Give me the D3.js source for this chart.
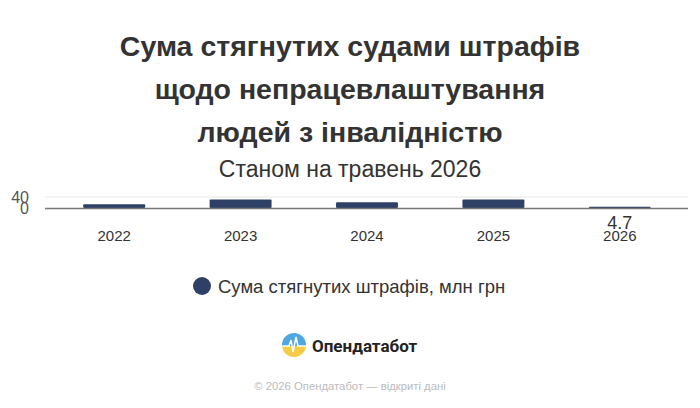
<!DOCTYPE html>
<html><head><meta charset="utf-8">
<script src="https://cdn.jsdelivr.net/npm/d3@7"></script>
<style>body{margin:0;background:#fff;font-family:"Liberation Sans",Arial,sans-serif;}</style>
</head><body><svg id="c" width="700" height="408"></svg>
<script>
const titleLines = ["Сума стягнутих судами штрафів", "щодо непрацевлаштування", "людей з інвалідністю"];
const subtitle = "Станом на травень 2026";
const years = ["2022", "2023", "2024", "2025", "2026"];
const fines = [13.5, 31, 20.5, 31, 4.7];
const yTicks = [0, 40];
const seriesName = "Сума стягнутих штрафів, млн грн";
const labelled = ["2026"];

const svg = d3.select("#c");
const x = d3.scaleBand().domain(years).range([51, 683]).paddingInner(0.51).paddingOuter(0.255);
const y = d3.scaleLinear().domain([0, 40]).range([208, 197]);

// titles
svg.selectAll("text.t").data(titleLines).join("text").attr("class","t")
  .attr("x",350).attr("y",(d,i)=>56+i*43).attr("text-anchor","middle")
  .attr("font-size",28.5).attr("font-weight","bold").attr("fill","#333").text(d=>d);
svg.append("text").attr("x",350).attr("y",177).attr("text-anchor","middle")
  .attr("font-size",23).attr("fill","#333").text(subtitle);

// grid
svg.append("g").selectAll("line").data(yTicks.filter(d=>d>0)).join("line")
  .attr("x1",45).attr("x2",688).attr("y1",d=>y(d)).attr("y2",d=>y(d))
  .attr("stroke","#e6e6e6").attr("stroke-width",1);
// y labels
svg.append("g").selectAll("text").data(yTicks).join("text")
  .attr("x",29).attr("y",d=>y(d)+6).attr("text-anchor","end")
  .attr("font-size",16).attr("fill","#555").text(d=>d);

// bars
svg.append("g").selectAll("rect").data(years).join("rect")
  .attr("x",d=>x(d)).attr("width",x.bandwidth())
  .attr("y",(d,i)=>y(fines[i])).attr("height",(d,i)=>y(0)-y(fines[i]))
  .attr("fill","#2e4066").attr("rx",1);

// baseline
svg.append("line").attr("x1",45).attr("x2",688).attr("y1",y(0)+0.5).attr("y2",y(0)+0.5)
  .attr("stroke","#777").attr("stroke-width",1.5);

// x axis labels
const xa = svg.append("g").attr("transform","translate(0,"+(y(0))+")")
  .call(d3.axisBottom(x).tickSize(0).tickPadding(0));
xa.select(".domain").remove();
xa.selectAll("text").attr("font-size",15).attr("fill","#333")
  .attr("font-family","'Liberation Sans', Arial, sans-serif").attr("dy",0).attr("y",33);

// data label
svg.append("g").selectAll("text").data(labelled).join("text")
  .attr("x",d=>x(d)+x.bandwidth()/2).attr("y",229).attr("text-anchor","middle")
  .attr("font-size",18).attr("fill","#333").attr("stroke","#fff").attr("stroke-width",3)
  .attr("paint-order","stroke").text(d=>fines[years.indexOf(d)]);

// legend
svg.append("circle").attr("cx",202).attr("cy",286).attr("r",9).attr("fill","#2e4066");
svg.append("text").attr("x",218).attr("y",293).attr("font-size",18.5).attr("fill","#333").text(seriesName);

// logo
const defs = svg.append("defs");
const cp = defs.append("clipPath").attr("id","lc");
cp.append("circle").attr("cx",294).attr("cy",345).attr("r",12);
const lg = svg.append("g").attr("clip-path","url(#lc)");
lg.append("rect").attr("x",282).attr("y",333).attr("width",24).attr("height",13).attr("fill","#4fa6e0");
lg.append("rect").attr("x",282).attr("y",346).attr("width",24).attr("height",12).attr("fill","#f6cb45");
lg.append("path").attr("d","M282,346 L289,346 L291,340 L293,352 L296,337 L298,346 L306,346")
  .attr("fill","none").attr("stroke","#fff").attr("stroke-width",1.5);
svg.append("text").attr("x",312).attr("y",352).attr("font-size",17).attr("font-weight","bold")
  .attr("font-family","Roboto, sans-serif").attr("fill","#222").text("Опендатабот");

// footer
svg.append("text").attr("x",350).attr("y",390).attr("text-anchor","middle")
  .attr("font-size",11.3).attr("fill","#bbb").text("© 2026 Опендатабот — відкриті дані");
</script></body></html>
